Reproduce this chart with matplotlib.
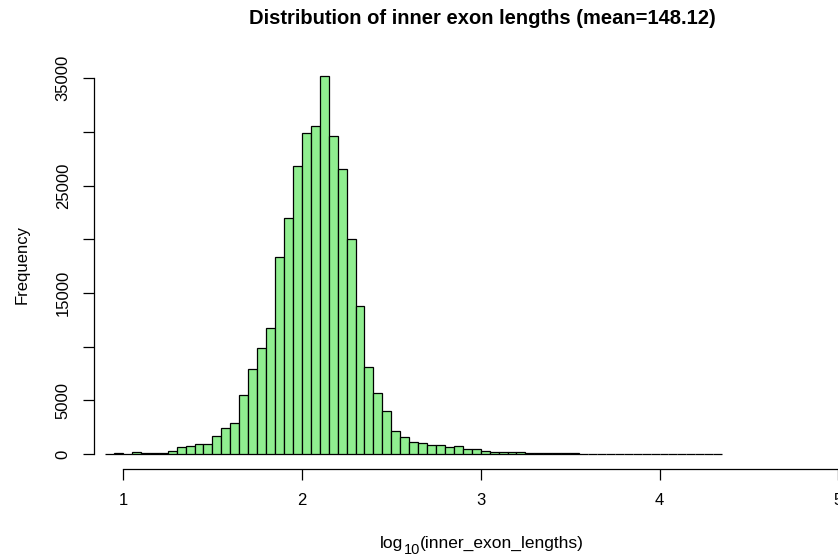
import matplotlib
matplotlib.use("Agg")
import matplotlib.pyplot as plt
import numpy as np

plt.rcParams['font.family'] = ['Liberation Sans', 'DejaVu Sans']

# histogram of log10 lengths, bins of 0.05 starting at 0.9
bin_start = 0.90
bin_width = 0.05
counts = [10, 60, 30, 150, 40, 120, 70, 250,
          620, 780, 900, 900, 1680, 2390, 2870, 5460,
          7880, 9900, 11700, 18340, 21970, 26840, 29860, 30510,
          35190, 29610, 26530, 19990, 13750, 8130, 5650, 4000,
          2140, 1600, 1100, 1040, 860, 860, 620, 720,
          500, 440, 310, 220, 220, 160, 160, 120,
          100, 90, 60, 50, 40, 35, 25, 20,
          18, 14, 12, 10, 8, 6, 5, 4,
          3, 3, 2, 2, 1]
x_ticks = [1, 2, 3, 4, 5]
y_ticks = [0, 5000, 10000, 15000, 20000, 25000, 30000, 35000]
y_labels = ["0", "5000", "", "15000", "", "25000", "", "35000"]

lefts = bin_start + bin_width * np.arange(len(counts))
ymax = max(counts)

fig = plt.figure(figsize=(8.38, 5.58), dpi=100)
ax = fig.add_axes([94.4/838, 89/558, (867-94.4)/838, 408/558])

ax.bar(lefts, counts, width=bin_width, align='edge',
       color='#90EE90', edgecolor='black', linewidth=0.9)

ax.set_xlim(0.84, 5.16)
ax.set_ylim(-0.04*ymax, 1.04*ymax)

for s in ['top', 'right']:
    ax.spines[s].set_visible(False)
ax.spines['left'].set_bounds(0, 35000)
ax.spines['bottom'].set_bounds(1, 5)
ax.spines['left'].set_linewidth(0.9)
ax.spines['bottom'].set_linewidth(0.9)

ax.set_xticks(x_ticks)
ax.set_xticklabels([str(t) for t in x_ticks])
ax.set_yticks(y_ticks)
ax.set_yticklabels(y_labels, rotation=90, va='center')
ax.tick_params(axis='both', direction='out', length=8, width=0.9, labelsize=12)
ax.tick_params(axis='x', pad=9)
ax.tick_params(axis='y', pad=9)

fig.text(482/838, 1 - 19/558, "Distribution of inner exon lengths (mean=148.12)",
         ha='center', va='center', fontsize=14.5, fontweight='bold')
fig.text(22/838, 1 - 265/558, "Frequency", rotation=90,
         ha='center', va='center', fontsize=12)

# x label: log + subscript 10 + rest, pieced together like R plotmath
renderer = fig.canvas.get_renderer()
base_y = 1 - 548/558
parts = [("log", 12.5, 0), ("10", 10.5, -6), ("(inner_exon_lengths)", 12.5, 0)]
texts = []
for s, fs, dy in parts:
    t = fig.text(0, base_y + dy/558, s, ha='left', va='baseline', fontsize=fs)
    texts.append(t)
widths = [t.get_window_extent(renderer).width for t in texts]
x = 482 - sum(widths)/2
for t, w in zip(texts, widths):
    t.set_x(x/838)
    x += w

fig.savefig("out.png", dpi=100)
